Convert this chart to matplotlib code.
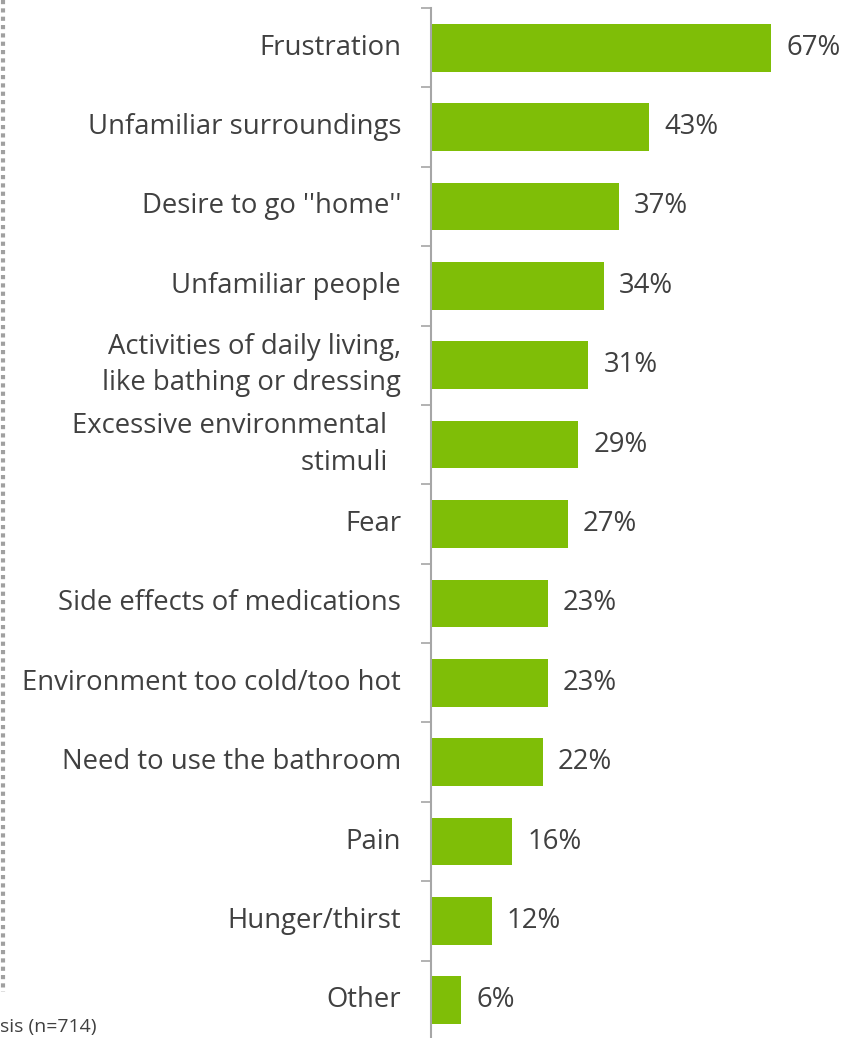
import matplotlib.pyplot as plt
from matplotlib.lines import Line2D

plt.rcParams['font.family'] = ['Open Sans', 'DejaVu Sans']

# reasons, top to bottom
reasons = [
    "Frustration",
    "Unfamiliar surroundings",
    "Desire to go ''home''",
    "Unfamiliar people",
    "Activities of daily living,\nlike bathing or dressing",
    "Excessive environmental  \nstimuli  ",
    "Fear",
    "Side effects of medications",
    "Environment too cold/too hot",
    "Need to use the bathroom",
    "Pain",
    "Hunger/thirst",
    "Other",
]
shares = [67, 43, 37, 34, 31, 29, 27, 23, 23, 22, 16, 12, 6]

W, H = 846, 1038
green = '#7FBE07'
txt = '#404040'
axis_grey = '#A6A6A6'

fig = plt.figure(figsize=(W / 100, H / 100), dpi=100)
ax = fig.add_axes([431 / W, -2 / H, (W - 431) / W, 1032 / H])

n = len(reasons)
ypos = list(range(n))
ax.barh(ypos, shares, height=0.6, color=green, zorder=2)
ax.set_ylim(n - 0.5, -0.5)
ax.set_xlim(0, (W - 431) / 5.075)

for spine in ['top', 'right', 'bottom']:
    ax.spines[spine].set_visible(False)
ax.spines['left'].set_color(axis_grey)
ax.spines['left'].set_linewidth(1.5)
ax.set_xticks([])

# boundary ticks between categories, labels on the centres
ax.set_yticks([i - 0.5 for i in range(n + 1)])
ax.set_yticklabels([])
ax.tick_params(axis='y', length=7.5, width=1.2, color=axis_grey, direction='out')

for y, (name, v) in enumerate(zip(reasons, shares)):
    ax.annotate(name, xy=(0, y), xycoords='data', xytext=(-30, 0),
                textcoords='offset pixels', ha='right', va='center',
                fontsize=19.8, color=txt, linespacing=1.4, multialignment='right')
    ax.annotate(f"{v}%", xy=(v, y), xycoords='data', xytext=(15, 0),
                textcoords='offset pixels', ha='left', va='center',
                fontsize=19.8, color=txt)

# dotted rule on the left edge
fig.add_artist(Line2D([2.5 / W, 2.5 / W], [1, 1 - 992 / H], transform=fig.transFigure,
                      color='#A0A0A0', linestyle=(0, (1, 1)), linewidth=3))

fig.text(0, 1 - 1018 / H, "sis (n=714)", ha='left', va='top', fontsize=14, color=txt)

fig.savefig('out.png', dpi=100)
